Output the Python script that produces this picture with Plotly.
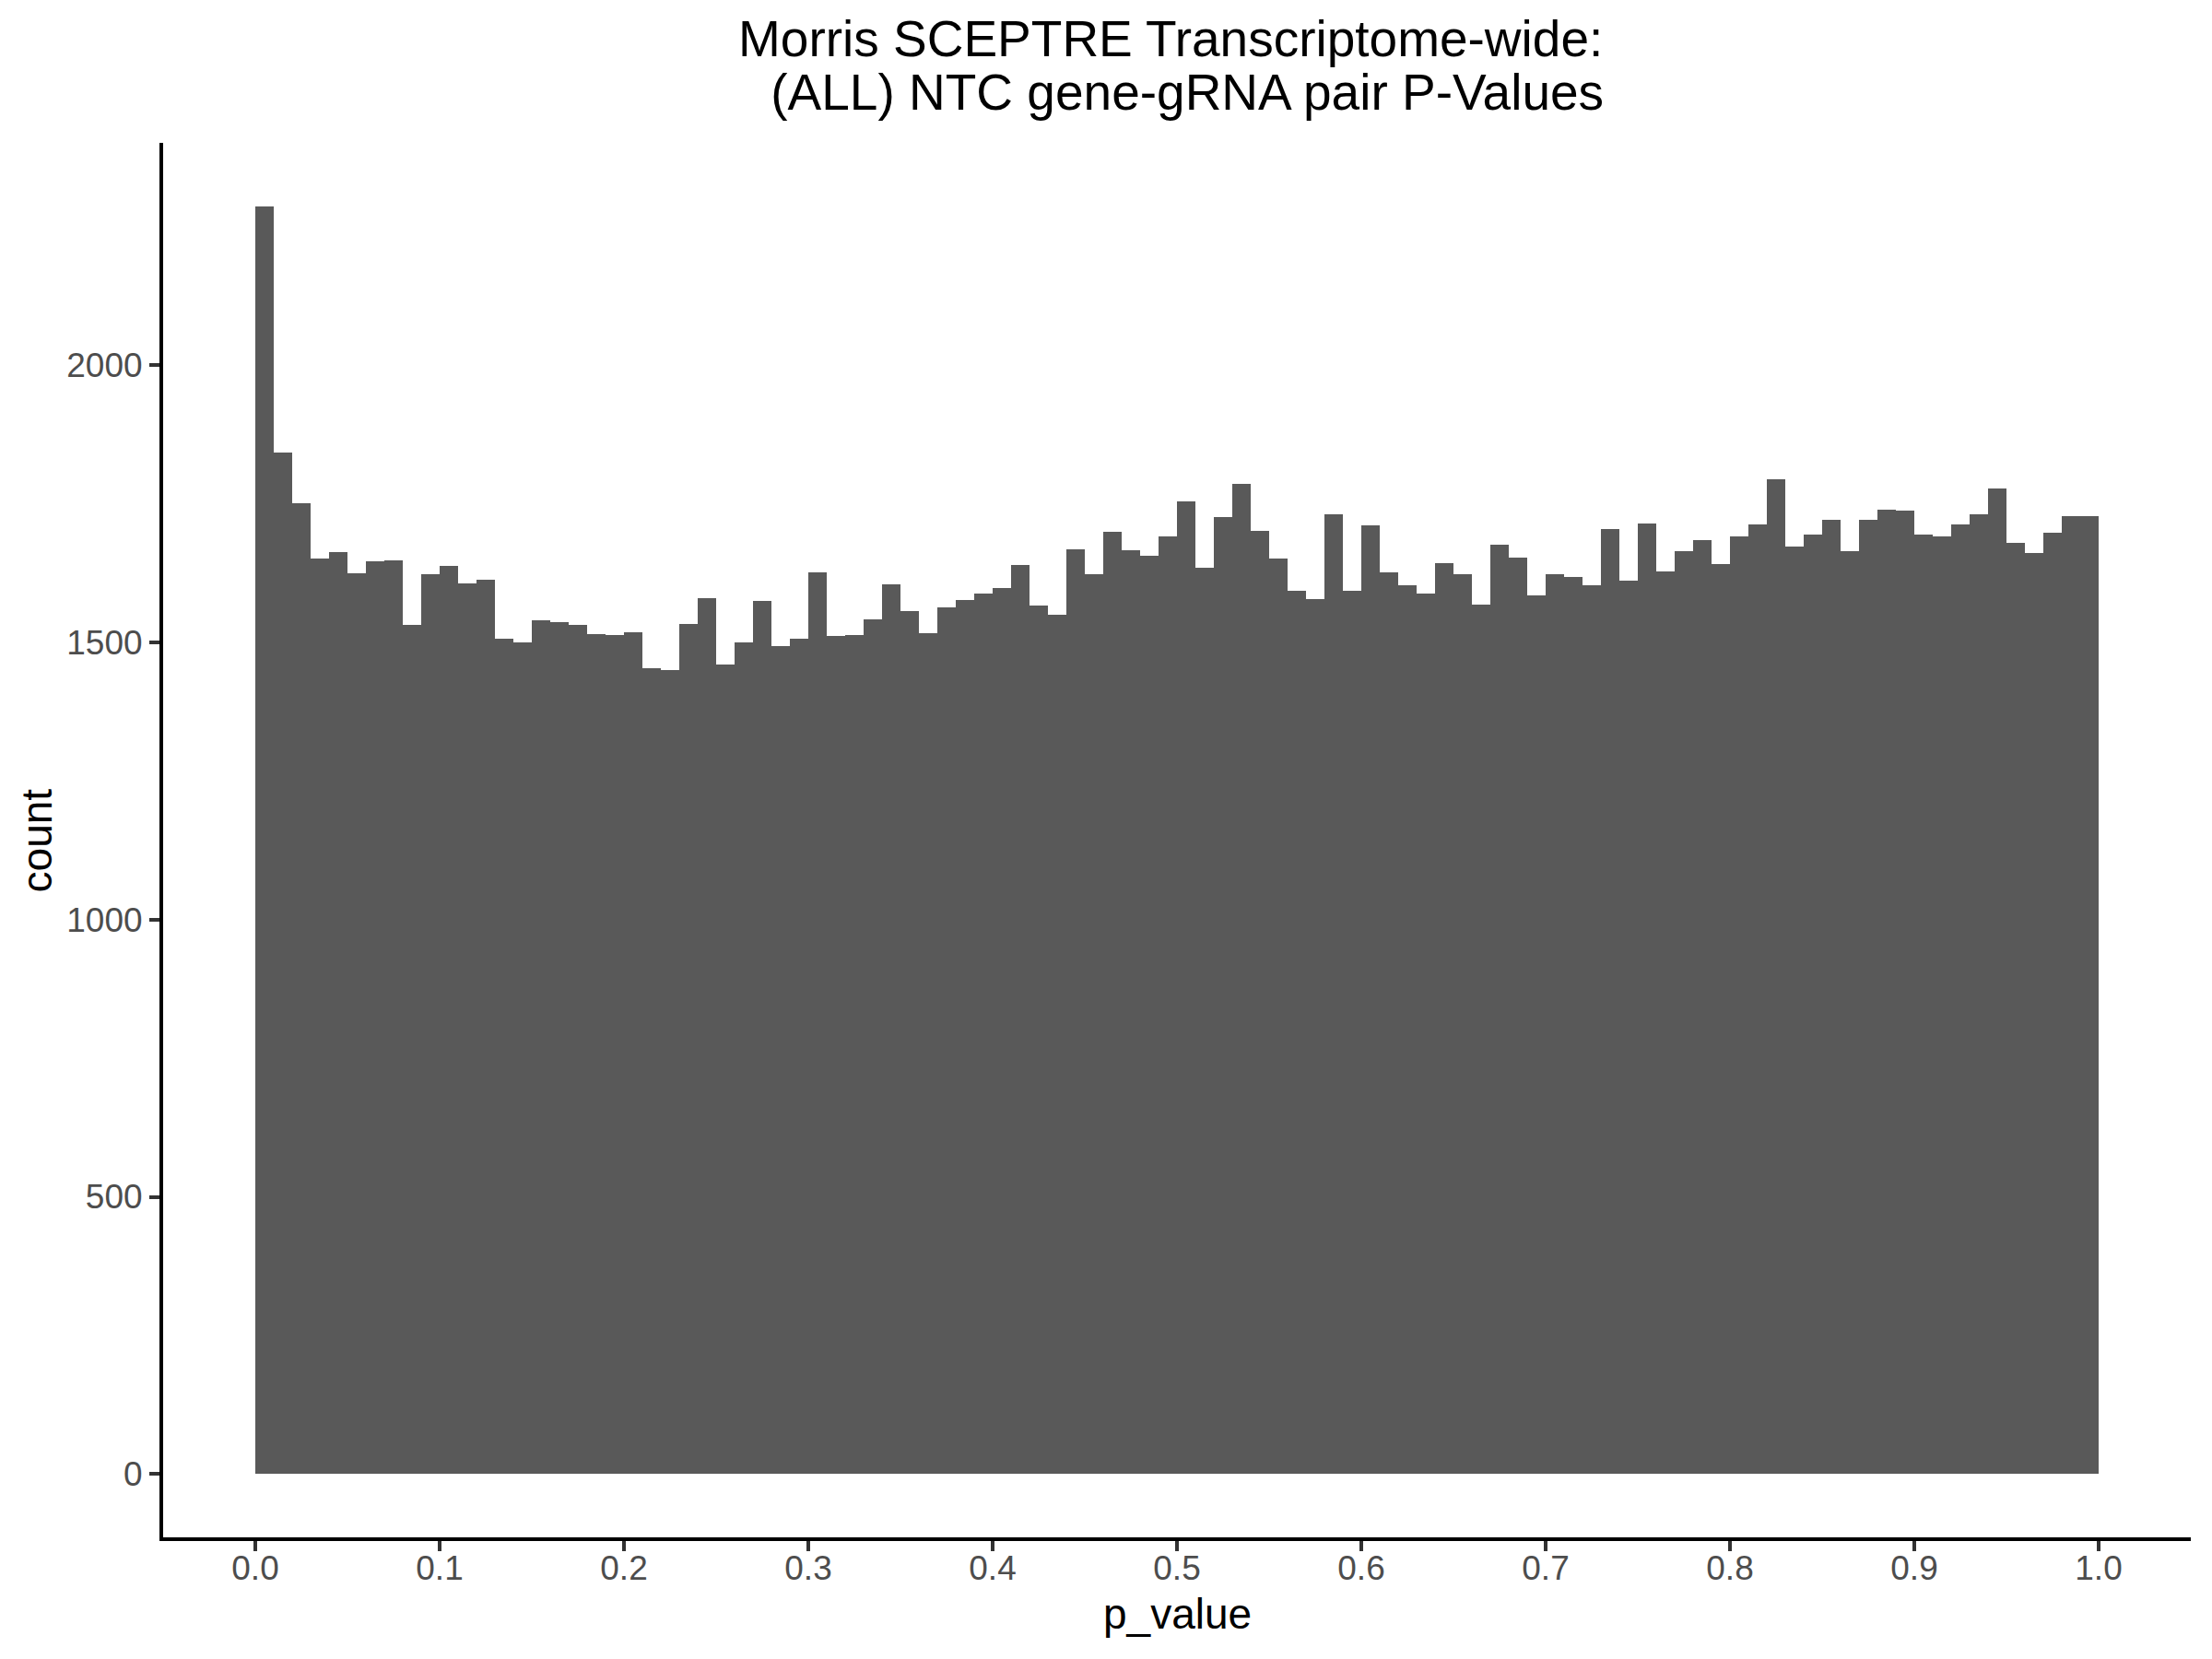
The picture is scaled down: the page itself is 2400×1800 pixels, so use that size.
import numpy as np
import plotly.graph_objects as go

# Histogram of p-values: 100 bins of width 0.01 on [0, 1]
bin_width = 0.01
n_bins = 100
bin_centers = (np.arange(n_bins) + 0.5) * bin_width

counts = [2287, 1843, 1751, 1652, 1663, 1625, 1646, 1648, 1531, 1623,
          1638, 1607, 1613, 1507, 1500, 1540, 1537, 1531, 1515, 1514,
          1519, 1454, 1450, 1533, 1580, 1460, 1500, 1575, 1493, 1506,
          1627, 1512, 1514, 1541, 1605, 1557, 1517, 1563, 1577, 1589,
          1598, 1640, 1567, 1550, 1668, 1623, 1700, 1666, 1657, 1692,
          1755, 1635, 1727, 1786, 1701, 1652, 1593, 1579, 1731, 1593,
          1712, 1627, 1603, 1589, 1643, 1623, 1568, 1677, 1653, 1585,
          1623, 1618, 1603, 1705, 1611, 1714, 1628, 1665, 1685, 1642,
          1692, 1713, 1795, 1673, 1695, 1721, 1665, 1721, 1740, 1738,
          1695, 1692, 1713, 1731, 1778, 1680, 1662, 1698, 1728, 1728]

x_ticks = [0.0, 0.1, 0.2, 0.3, 0.4, 0.5, 0.6, 0.7, 0.8, 0.9, 1.0]
y_ticks = [0, 500, 1000, 1500, 2000]

title_line1 = "Morris SCEPTRE Transcriptome-wide:"
title_line2 = " (ALL) NTC gene-gRNA pair P-Values"
x_label = "p_value"
y_label = "count"

FONT = "Liberation Sans, Arial, sans-serif"

fig = go.Figure()
fig.add_trace(go.Bar(
    x=bin_centers,
    y=counts,
    width=bin_width,
    marker=dict(color="#595959", line=dict(width=0)),
    hoverinfo="x+y",
))

ymax = max(counts)
axis_common = dict(
    showgrid=False,
    zeroline=False,
    showline=True,
    linecolor="black",
    linewidth=4,
    ticks="outside",
    ticklen=11,
    tickwidth=4,
    tickcolor="#333333",
    tickfont=dict(family=FONT, size=37, color="#4D4D4D"),
)
fig.update_layout(
    width=2384,
    height=1784,
    margin=dict(l=169, r=15, t=147, b=124),
    paper_bgcolor="white",
    plot_bgcolor="white",
    showlegend=False,
    bargap=0,
    font=dict(family=FONT, color="#000000"),
    xaxis=dict(
        range=[-0.05, 1.05],
        tickmode="array",
        tickvals=x_ticks,
        ticktext=[f"{v:.1f}" for v in x_ticks],
        ticklabelstandoff=-13,
        **axis_common,
    ),
    yaxis=dict(
        range=[-0.05 * ymax, 1.05 * ymax],
        tickmode="array",
        tickvals=y_ticks,
        ticktext=[str(v) for v in y_ticks],
        **axis_common,
    ),
    annotations=[
        dict(text=title_line1, xref="paper", yref="paper", x=0.497, y=1.0747,
             xanchor="center", yanchor="middle", showarrow=False,
             font=dict(family=FONT, size=55, color="black")),
        dict(text=title_line2, xref="paper", yref="paper", x=0.5015, y=1.0362,
             xanchor="center", yanchor="middle", showarrow=False,
             font=dict(family=FONT, size=55, color="black")),
        dict(text=x_label, xref="paper", yref="paper", x=0.5, y=-0.0549,
             xanchor="center", yanchor="middle", showarrow=False,
             font=dict(family=FONT, size=46, color="black")),
        dict(text=y_label, xref="paper", yref="paper", x=-0.0623, y=0.5,
             xanchor="center", yanchor="middle", showarrow=False, textangle=-90,
             font=dict(family=FONT, size=46, color="black")),
    ],
)

fig.write_html("out.html")
